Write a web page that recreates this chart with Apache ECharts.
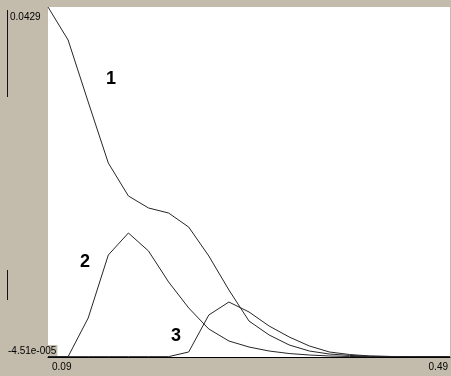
<!DOCTYPE html>
<html>
<head>
<meta charset="utf-8">
<script src="https://cdn.jsdelivr.net/npm/echarts@6/dist/echarts.min.js"></script>
<style>
  html, body { margin: 0; padding: 0; background: #c3bcac; }
  #chart { width: 451px; height: 376px; }
</style>
</head>
<body>
<div id="chart"></div>
<script>
// Sample positions along the horizontal axis (step 0.02)
const xValues = [0.09, 0.11, 0.13, 0.15, 0.17, 0.19, 0.21, 0.23, 0.25, 0.27,
                 0.29, 0.31, 0.33, 0.35, 0.37, 0.39, 0.41, 0.43, 0.45, 0.47, 0.49];

// Curve 1
const curve1 = [0.0429, 0.03885, 0.03125, 0.02376, 0.01971, 0.01824, 0.01762, 0.01590, 0.01235, 0.00818,
                0.00437, 0.00266, 0.00143, 0.00069, 0.00032, 0.00015, 0.00005, 0.00002, 0.00001, 0, 0];
// Curve 2
const curve2 = [0, 0, 0.00474, 0.01247, 0.01517, 0.01296, 0.00916, 0.00597, 0.00339, 0.00192,
                0.00118, 0.00069, 0.00038, 0.00020, 0.00008, 0.00002, 0, 0, 0, 0, 0];
// Curve 3
const curve3 = [0, 0, 0, 0, 0, 0, 0, 0.00057, 0.00511, 0.00670,
                0.00548, 0.00376, 0.00241, 0.00131, 0.00057, 0.00026, 0.00008, 0.00002, 0, 0, 0];

const curveNames = ['1', '2', '3'];

// Axis extent and the two labelled ticks on each axis
const xMin = 0.09, xMax = 0.49;
const yMin = -0.0000451, yMax = 0.0429;
const xTickLabels = ['0.09', '0.49'];
const yTickLabels = ['0.0429', '-4.51e-005'];

const GRAY = '#c3bcac';
const LINE = '#262626';

const pair = (ys) => xValues.map((x, i) => [x, ys[i]]);

const chart = echarts.init(document.getElementById('chart'), null, { renderer: 'canvas' });

chart.setOption({
  backgroundColor: GRAY,
  animation: false,
  grid: {
    left: 48, right: 0, top: 7, bottom: 19,
    show: true, backgroundColor: '#ffffff', borderWidth: 0
  },
  xAxis: {
    type: 'value', min: xMin, max: xMax,
    splitLine: { show: false },
    axisLine: { show: true, onZero: false, lineStyle: { color: '#000', width: 1 } },
    axisTick: { show: false },
    axisLabel: {
      customValues: [xMin, xMax],
      formatter: (v) => (Math.abs(v - xMin) < 1e-9 ? xTickLabels[0] : xTickLabels[1]),
      alignMinLabel: 'left', alignMaxLabel: 'right',
      margin: 5,
      fontFamily: 'Liberation Sans', fontSize: 10, color: '#000',
      padding: [0, 2, 0, 4]
    }
  },
  yAxis: {
    type: 'value', min: yMin, max: yMax,
    splitLine: { show: false },
    axisLine: { show: false },
    axisTick: { show: false },
    axisLabel: {
      customValues: [yMin, yMax],
      formatter: (v) => (v > 0.01 ? '{t|' + yTickLabels[0] + '}' : '{b|' + yTickLabels[1] + '}'),
      align: 'left',
      margin: 40,
      verticalAlignMaxLabel: 'top',
      verticalAlignMinLabel: 'bottom',
      fontFamily: 'Liberation Sans', fontSize: 10, color: '#000',
      rich: {
        t: { fontFamily: 'Liberation Sans', fontSize: 10, color: '#000', padding: [5, 0, 0, 2] },
        b: { fontFamily: 'Liberation Sans', fontSize: 10, color: '#000', backgroundColor: GRAY, padding: [1, 1, 1, 0] }
      }
    }
  },
  series: [curve1, curve2, curve3].map((ys, k) => ({
    name: curveNames[k],
    type: 'line',
    data: pair(ys),
    symbol: 'none',
    smooth: false,
    z: 3,
    lineStyle: { color: LINE, width: 1 }
  })),
  graphic: [
    // stray dark strokes on the left margin
    { type: 'line', shape: { x1: 7.5, y1: 10, x2: 7.5, y2: 97 }, style: { stroke: '#111', lineWidth: 1 } },
    { type: 'line', shape: { x1: 7.5, y1: 270, x2: 7.5, y2: 300 }, style: { stroke: '#111', lineWidth: 1 } },
    // curve labels
    { type: 'text', x: 111, y: 79, style: { text: curveNames[0], font: 'bold 18px "Liberation Sans"', fill: '#000', align: 'center', verticalAlign: 'middle' } },
    { type: 'text', x: 85, y: 262, style: { text: curveNames[1], font: 'bold 18px "Liberation Sans"', fill: '#000', align: 'center', verticalAlign: 'middle' } },
    { type: 'text', x: 176, y: 336, style: { text: curveNames[2], font: 'bold 18px "Liberation Sans"', fill: '#000', align: 'center', verticalAlign: 'middle' } }
  ]
});
</script>
</body>
</html>
